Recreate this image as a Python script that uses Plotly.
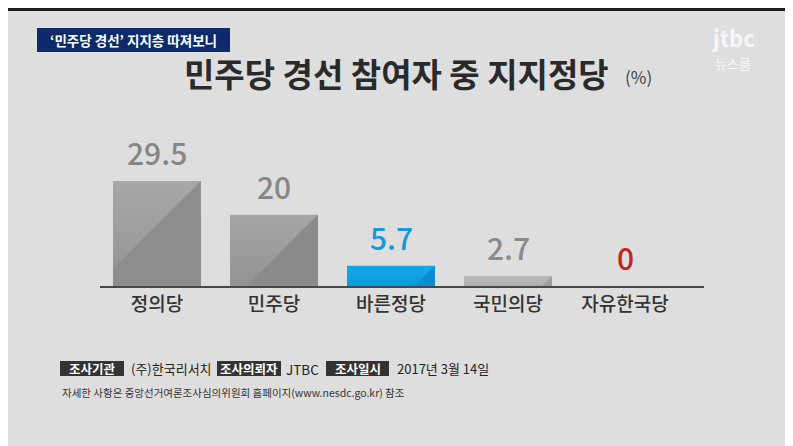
import plotly.graph_objects as go

# 데이터
parties = ["정의당", "민주당", "바른정당", "국민의당", "자유한국당"]
support = [29.5, 20, 5.7, 2.7, 0]
value_labels = ["29.5", "20", "5.7", "2.7", "0"]

bar_colors = ["#9c9c9c", "#9a9a9a", "#0ea3e2", "#b4b4b4", "#b4b4b4"]
bar_tops = ["#a8a8a8", "#a6a6a6", "#12a8e6", "#b8b8b8", "#b8b8b8"]
bar_bottoms = ["#939393", "#939393", "#0a9cdc", "#b0b0b0", "#b0b0b0"]
shade_colors = ["#8d8d8d", "#8b8b8b", "#0b8dcf", "#9c9c9c", "#9c9c9c"]
label_colors = ["#868686", "#868686", "#1699d6", "#8a8a8a", "#c0241c"]

# 페이지 body 여백(8px) 만큼 그림을 줄이고 좌표를 보정
OFF = 8
W, H = 793 - OFF, 446 - OFF
BAR_W = 0.75
PX_X = 117.0   # px per category
PX_Y = 3.56    # px per percent
FONT = "Noto Sans CJK KR"


def px(x):
    return (x - OFF) / W


def py(y):
    return 1 - (y - OFF) / H


fig = go.Figure()

fig.add_trace(go.Bar(
    x=list(range(len(parties))), y=support, width=BAR_W,
    marker=dict(color=bar_colors, line=dict(width=0)),
    hoverinfo="skip", showlegend=False,
))

# 막대 위 세로 그라데이션 + 오른쪽 아래 어두운 삼각형
for i, v in enumerate(support):
    if v <= 0:
        continue
    xr = i + BAR_W / 2
    xl = i - BAR_W / 2
    fig.add_trace(go.Scatter(
        x=[xl, xr, xr, xl, xl], y=[0, 0, v, v, 0], mode="lines",
        fill="toself", line=dict(width=0),
        fillgradient=dict(type="vertical",
                          colorscale=[[0, bar_bottoms[i]], [1, bar_tops[i]]]),
        hoverinfo="skip", showlegend=False,
    ))
    d = v * PX_Y / PX_X
    if d <= BAR_W:
        xs = [xr, xr, xr - d, xr]
        ys = [v, 0, 0, v]
    else:
        yl = v - BAR_W * PX_X / PX_Y
        xs = [xr, xr, xl, xl, xr]
        ys = [v, 0, 0, yl, v]
    fig.add_trace(go.Scatter(
        x=xs, y=ys, mode="lines", fill="toself",
        fillcolor=shade_colors[i], line=dict(width=0),
        hoverinfo="skip", showlegend=False,
    ))

# 값 라벨
for i, v in enumerate(support):
    fig.add_annotation(
        x=i, y=v, xref="x", yref="y", text=value_labels[i],
        showarrow=False, yanchor="bottom", yshift=5,
        font=dict(family=FONT, size=30, color=label_colors[i], weight=500),
    )

shapes = [
    # 상단 태그 박스
    dict(type="rect", xref="paper", yref="paper",
         x0=px(37), x1=px(230), y0=py(52), y1=py(28),
         fillcolor="#0d2b6b", line=dict(width=0)),
    # 하단 회색 박스
    dict(type="rect", xref="paper", yref="paper",
         x0=px(60), x1=px(124), y0=py(376), y1=py(361),
         fillcolor="#333333", line=dict(width=0)),
    dict(type="rect", xref="paper", yref="paper",
         x0=px(217), x1=px(281), y0=py(376), y1=py(361),
         fillcolor="#333333", line=dict(width=0)),
    dict(type="rect", xref="paper", yref="paper",
         x0=px(326), x1=px(389), y0=py(376), y1=py(361),
         fillcolor="#333333", line=dict(width=0)),
    # 테두리
    dict(type="rect", xref="paper", yref="paper",
         x0=0, x1=1, y0=py(OFF + 3), y1=1,
         fillcolor="#1e1e1e", line=dict(width=0)),
    dict(type="rect", xref="paper", yref="paper",
         x0=px(791), x1=1, y0=0, y1=1,
         fillcolor="#3a3a3a", line=dict(width=0)),
]


def text(x, y, s, size, color, anchor="center", bold=False):
    if bold:
        s = "<b>" + s + "</b>"
    fig.add_annotation(
        x=px(x), y=py(y), xref="paper", yref="paper", text=s,
        showarrow=False, xanchor=anchor, yanchor="middle",
        font=dict(family=FONT, size=size, color=color),
    )


text(133, 40, "‘민주당 경선’ 지지층 따져보니", 13.5, "#ffffff", bold=True)
text(396, 73, "민주당 경선 참여자 중 지지정당", 33, "#2a2a2a", bold=True)
text(638, 77, "(%)", 17, "#444444")

text(733, 37, "<b>jtbc</b>", 22, "rgba(255,255,255,0.8)")
text(733, 63, "뉴스룸", 13, "rgba(255,255,255,0.8)")

text(92, 368.5, "조사기관", 12.5, "#ffffff", bold=True)
text(129, 368.5, "(주)한국리서치", 13, "#222222", anchor="left")
text(249, 368.5, "조사의뢰자", 12.5, "#ffffff", bold=True)
text(284, 368.5, "JTBC", 13.5, "#222222", anchor="left")
text(357.5, 368.5, "조사일시", 12.5, "#ffffff", bold=True)
text(395, 368.5, "2017년 3월 14일", 13, "#222222", anchor="left")
text(60, 392, "자세한 사항은 중앙선거여론조사심의위원회 홈페이지(www.nesdc.go.kr) 참조",
     10.5, "#333333", anchor="left")

x_left = -57 / PX_X
x_right = x_left + (704 - 100) / PX_X

fig.update_layout(
    width=W, height=H, autosize=False,
    margin=dict(l=0, r=0, t=0, b=0),
    paper_bgcolor="#dedede", plot_bgcolor="rgba(0,0,0,0)",
    shapes=shapes, bargap=0,
    xaxis=dict(
        domain=[px(100), px(704)], range=[x_left, x_right],
        tickvals=list(range(len(parties))), ticktext=parties,
        tickfont=dict(family=FONT, size=19, color="#333333", weight=500),
        showgrid=False, zeroline=False, ticks="",
        showline=True, linecolor="#484848", linewidth=2,
        fixedrange=True,
    ),
    yaxis=dict(
        domain=[py(286), py(140)], range=[0, (286 - 140) / PX_Y],
        visible=False, showgrid=False, zeroline=False, fixedrange=True,
    ),
)

fig.write_html("out.html")
